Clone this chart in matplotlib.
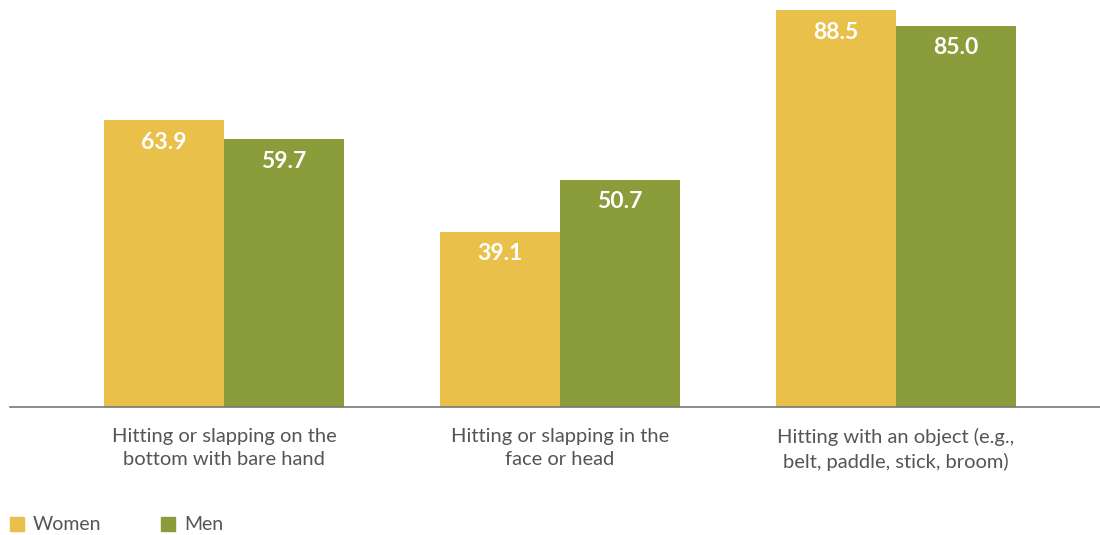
import numpy as np
import matplotlib.pyplot as plt
from matplotlib.patches import Rectangle

categories = ["Hitting or slapping on the\nbottom with bare hand",
              "Hitting or slapping in the\nface or head",
              "Hitting with an object (e.g.,\nbelt, paddle, stick, broom)"]
women = [63.9, 39.1, 88.5]
men = [59.7, 50.7, 85.0]
series_names = ["Women", "Men"]
colors = ["#E8C04A", "#8B9C3A"]

plt.rcParams['font.family'] = ['Lato', 'DejaVu Sans']

fig = plt.figure(figsize=(11, 5.35), dpi=100)
ax = fig.add_axes([10 / 1100, 128 / 535, 1090 / 1100, 407 / 535])

x = np.arange(len(categories))
w = 120 / 336
b1 = ax.bar(x - w / 2, women, w, color=colors[0])
b2 = ax.bar(x + w / 2, men, w, color=colors[1])

for bars, vals in [(b1, women), (b2, men)]:
    for bar, v in zip(bars, vals):
        ax.annotate(f"{v:.1f}", (bar.get_x() + bar.get_width() / 2, v),
                    xytext=(0, -16), textcoords="offset points",
                    ha="center", va="center", color="white",
                    fontsize=16.5, fontweight="bold")

ax.set_xlim(-214 / 336, 876 / 336)
ax.set_ylim(0, 407 / (397 / 88.5))
ax.set_yticks([])
ax.set_xticks(x)
ax.set_xticklabels(categories, fontsize=14.5, color="#555555", linespacing=1.45)
ax.tick_params(axis="x", length=0, pad=15)
for s in ["top", "right", "left"]:
    ax.spines[s].set_visible(False)
ax.spines["bottom"].set_color("#777777")
ax.spines["bottom"].set_linewidth(1.2)

# legend drawn by hand at bottom left
for i, (name, c) in enumerate(zip(series_names, colors)):
    x0 = 10 + i * 151
    fig.patches.append(Rectangle((x0 / 1100, 4 / 535), 14 / 1100, 14 / 535,
                                 transform=fig.transFigure, color=c))
    fig.text((x0 + 23) / 1100, 10 / 535, name, fontsize=14,
             color="#555555", va="center", ha="left")

fig.savefig("out.png", dpi=100)
